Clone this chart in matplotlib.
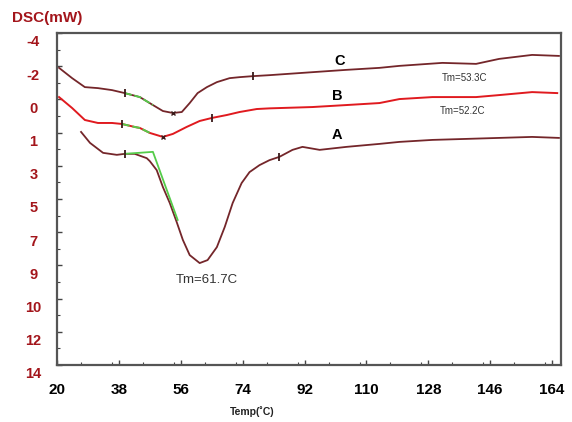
import numpy as np
import matplotlib
matplotlib.use('Agg')
import matplotlib.pyplot as plt
from matplotlib.ticker import MultipleLocator
from matplotlib.transforms import ScaledTranslation

plt.rcParams['font.family'] = ['Liberation Sans', 'DejaVu Sans']

# DSC curves, temperature in C, signal in axis position units (0 = top tick, 10 = bottom)
temp_c = [20.6, 24.4, 28.1, 31.9, 36.0, 39.7, 44.1, 47.9, 50.8, 53.7, 56.3, 58.6, 60.9,
          63.6, 66.5, 70.2, 73.1, 76.9, 81.8, 94.3, 104.2, 113.8, 119.6, 132.1, 141.9,
          148.6, 158.2, 166.0]
dsc_c = [1.05, 1.36, 1.63, 1.66, 1.72, 1.81, 1.93, 2.17, 2.35, 2.41, 2.38, 2.11, 1.81,
         1.63, 1.48, 1.36, 1.33, 1.30, 1.27, 1.18, 1.11, 1.05, 0.99, 0.90, 0.93,
         0.78, 0.66, 0.69]

temp_b = [20.6, 24.4, 28.1, 31.9, 36.0, 38.9, 42.6, 44.1, 47.0, 50.8, 53.7, 57.7, 61.5,
          65.0, 69.4, 73.1, 78.1, 81.8, 94.3, 104.2, 113.8, 119.6, 129.2, 141.9, 148.6,
          158.2, 165.5]
dsc_b = [1.93, 2.26, 2.62, 2.71, 2.71, 2.74, 2.83, 2.86, 3.01, 3.13, 3.04, 2.83, 2.65,
         2.56, 2.47, 2.38, 2.29, 2.27, 2.23, 2.17, 2.11, 1.99, 1.93, 1.93, 1.87,
         1.78, 1.81]

temp_a = [27.0, 29.6, 33.4, 37.4, 39.7, 42.6, 46.1, 47.0, 49.0, 50.8, 52.8, 54.8, 56.6,
          58.6, 61.5, 63.8, 66.5, 68.8, 71.1, 73.7, 76.0, 78.9, 81.8, 84.7, 88.5, 91.4,
          96.4, 104.2, 113.8, 119.6, 129.2, 139.0, 148.6, 158.2, 166.0]
dsc_a = [2.98, 3.31, 3.61, 3.67, 3.64, 3.64, 3.77, 3.86, 4.13, 4.64, 5.12, 5.69, 6.23,
         6.69, 6.93, 6.84, 6.45, 5.84, 5.12, 4.52, 4.19, 3.98, 3.83, 3.73, 3.52, 3.43,
         3.52, 3.43, 3.34, 3.28, 3.22, 3.19, 3.16, 3.13, 3.16]

# onset / minimum marks (indices into the arrays)
marks_c = [5, 17]
marks_b = [5, 13]
marks_a = [4, 23]
min_c, min_b = [9], [9]

# tangent construction on curve A
tan_temp = [39.7, 47.9, 55.1]
tan_dsc = [3.64, 3.58, 5.63]

ytick_labels = ['-4', '-2', '0', '1', '3', '5', '7', '9', '10', '12', '14']
xticks = [20, 38, 56, 74, 92, 110, 128, 146, 164]

dark = '#74262a'
red = '#e01a1f'
green = '#55cc4a'

fig = plt.figure(figsize=(5.72, 4.22), dpi=100)
ax = fig.add_axes([57 / 572, 1 - 365 / 422, 504 / 572, 332 / 422])

ax.plot(temp_c, dsc_c, color=dark, lw=1.3)
ax.plot(temp_b, dsc_b, color=red, lw=1.4)
ax.plot(temp_a, dsc_a, color=dark, lw=1.3)

# green overlays
tc = np.array(temp_c); dc = np.array(dsc_c)
m = (tc >= 39.7) & (tc <= 47.9)
ax.plot(tc[m], dc[m], color=green, lw=1.3, ls=(0, (4, 1.5)))
tb = np.array(temp_b); db = np.array(dsc_b)
m = (tb >= 38.9) & (tb <= 47.0)
ax.plot(tb[m], db[m], color=green, lw=1.4, ls=(0, (4, 1.5)))
ax.plot(tan_temp, tan_dsc, color=green, lw=1.3)

for t, d, mk in [(temp_c, dsc_c, marks_c), (temp_b, dsc_b, marks_b), (temp_a, dsc_a, marks_a)]:
    ax.plot(t, d, ls='none', marker='|', markevery=mk, ms=6, mew=1.3, color='#3a1a1a')
for t, d, mk in [(temp_c, dsc_c, min_c), (temp_b, dsc_b, min_b)]:
    ax.plot(t, d, ls='none', marker='x', markevery=mk, ms=3.5, mew=1.0, color='#3a1a1a')

ax.set_xlim(20, 166.6)
ax.set_ylim(10, 0)
ax.set_xticks(xticks)
ax.xaxis.set_minor_locator(MultipleLocator(9))
ax.set_yticks(range(len(ytick_labels)))
ax.set_yticklabels(ytick_labels)
ax.yaxis.set_minor_locator(MultipleLocator(0.5))

ax.tick_params(axis='both', which='both', direction='in', color='#444444')
ax.tick_params(axis='both', which='major', length=3.5, width=1)
ax.tick_params(axis='both', which='minor', length=2, width=0.8)
ax.tick_params(axis='x', labelsize=11, pad=13)
ax.tick_params(axis='y', labelsize=10.5, pad=17, labelcolor='#a3151b')
for lab in ax.get_xticklabels():
    lab.set_fontweight('bold')
offset = ScaledTranslation(0, -8 / 100, fig.dpi_scale_trans)
for lab in ax.get_yticklabels():
    lab.set_fontweight('bold')
    lab.set_ha('center')
    lab.set_transform(lab.get_transform() + offset)

for s in ax.spines.values():
    s.set_color('#555555')
    s.set_linewidth(1.6)

ax.text(102.2, 0.84, 'C', fontsize=10.5, fontweight='bold', ha='center', va='center')
ax.text(101.6, 1.90, 'B', fontsize=10.5, fontweight='bold', ha='center', va='center')
ax.text(101.3, 3.07, 'A', fontsize=10.5, fontweight='bold', ha='center', va='center')
ax.text(138.4, 1.36, 'Tm=53.3C', fontsize=7, color='#333333', ha='center', va='center')
ax.text(138.1, 2.35, 'Tm=52.2C', fontsize=7, color='#333333', ha='center', va='center')
ax.text(63.5, 7.44, 'Tm=61.7C', fontsize=9.5, color='#333333', ha='center', va='center')

fig.text(12 / 572, 1 - 18 / 422, 'DSC(mW)', fontsize=11, fontweight='bold',
         color='#a3151b', ha='left', va='center')
fig.text(252 / 572, 1 - 412 / 422, 'Temp(˚C)', fontsize=7.5, fontweight='bold',
         color='#222222', ha='center', va='center')

fig.savefig('out.png', dpi=100)
